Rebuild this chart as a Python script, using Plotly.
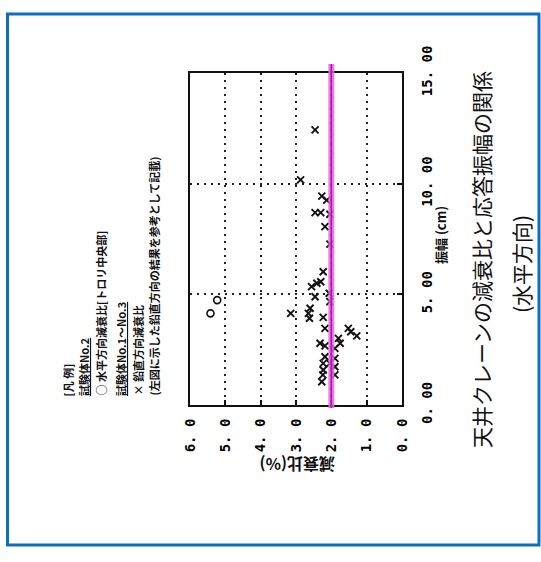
import plotly.graph_objects as go

# Damping ratio (%) vs response amplitude (cm), horizontal direction
# Specimens No.1-No.3 : vertical-direction damping ratio (x marks)
vert_damping = [2.46, 2.87, 2.27, 2.13, 2.46, 2.30, 2.04, 2.18,
                2.04, 2.23, 2.56, 2.41, 2.30, 2.46, 2.06, 2.04,
                3.15, 2.60, 2.65, 2.62, 2.23, 2.18, 2.32, 2.18,
                1.80, 1.75, 1.52, 1.45, 1.28, 1.90,
                2.18, 2.23, 2.23, 2.24, 2.27, 1.90, 1.90, 1.90, 2.04]
vert_amplitude = [12.43, 10.17, 9.44, 9.26, 8.69, 8.69, 8.62, 8.06,
                  7.27, 6.02, 5.35, 5.50, 5.57, 4.89, 5.05, 4.67,
                  4.14, 4.37, 4.14, 3.92, 3.96, 3.46, 2.79, 2.67,
                  3.01, 2.79, 3.46, 3.31, 3.12, 2.56,
                  2.18, 1.88, 1.58, 1.36, 1.05, 2.11, 1.73, 1.36, 1.88]

# Specimen No.2 : horizontal-direction damping ratio at trolley centre (circles)
horiz_damping = [5.23, 5.42]
horiz_amplitude = [4.74, 4.14]

# Reference damping ratio line
ref_damping = 2.0

damping_ticks = [0, 1, 2, 3, 4, 5, 6]
damping_labels = ["0. 0", "1. 0", "2. 0", "3. 0", "4. 0", "5. 0", "6. 0"]
amp_ticks = [0, 5, 10, 15]
amp_labels = ["0. 00", "5. 00", "10. 00", "15. 00"]

legend_lines = [
    "[凡 例]",
    "<span style='text-decoration:underline'>試験体No.2</span>",
    "○ 水平方向減衰比[トロリ中央部]",
    "<span style='text-decoration:underline'>試験体No.1～No.3</span>",
    "× 鉛直方向減衰比",
    "(左図に示した鉛直方向の結果を参考として記載)",
]
caption = "天井クレーンの減衰比と応答振幅の関係"
caption_sub = "(水平方向)"
x_title = "減衰比(%)"
y_title = "振幅 (cm)"

W, H = 541, 562
L, R, T, B = 190, 402, 73, 405  # plot area in pixels


def px(x):
    return (x - L) / (R - L)


def py(y):
    return (B - y) / (B - T)


fig = go.Figure()

fig.add_trace(go.Scatter(
    x=vert_damping, y=vert_amplitude, mode="markers",
    marker=dict(symbol="x-thin", size=7, color="#111",
                line=dict(width=1.9, color="#111")),
    showlegend=False, cliponaxis=False))
fig.add_trace(go.Scatter(
    x=horiz_damping, y=horiz_amplitude, mode="markers",
    marker=dict(symbol="circle-open", size=7, color="#111",
                line=dict(width=1.6, color="#111")),
    showlegend=False, cliponaxis=False))

mono = "DejaVu Sans Mono"
axis_common = dict(
    tickangle=-90, tickfont=dict(family=mono, size=14, color="#000"),
    showline=True, mirror=True, linewidth=2, linecolor="#111",
    ticks="inside", ticklen=5, tickwidth=1.5, tickcolor="#111",
    showgrid=True, gridcolor="#222", gridwidth=2, griddash="2px,5px",
    zeroline=False)
fig.update_xaxes(range=[6, 0], tickvals=damping_ticks,
                 ticktext=[f"<b>{t}</b>" for t in damping_labels],
                 ticklabelstandoff=6, **axis_common)
fig.update_yaxes(range=[0, 15], side="right", tickvals=amp_ticks,
                 ticktext=[f"<b>{t}</b>" for t in amp_labels],
                 ticklabelstandoff=11, **axis_common)

shapes = [
    # reference line at 2.0 %
    dict(type="line", xref="x", yref="paper", x0=ref_damping, x1=ref_damping,
         y0=py(408), y1=py(64), line=dict(color="rgba(232,100,232,0.85)", width=6)),
    dict(type="line", xref="x", yref="paper", x0=ref_damping, x1=ref_damping,
         y0=py(408), y1=py(64), line=dict(color="#9a1e96", width=1.5)),
    # outer frame
    dict(type="rect", xref="paper", yref="paper", x0=px(7.5), x1=px(539),
         y0=py(545), y1=py(14), line=dict(color="#0a6fc2", width=3)),
]

cjk = "Noto Sans CJK JP"


def note(text, x, y, angle, size, xa="center", ya="middle"):
    return dict(text=text, textangle=angle, x=px(x), y=py(y),
                xref="paper", yref="paper", xanchor=xa, yanchor=ya,
                showarrow=False, font=dict(family=cjk, size=size, color="#111"))


ann = [
    note(f"<b>{x_title}</b>", 297, 465, 180, 16),
    note(f"<b>{y_title}</b>", 440, 235, -90, 13),
    note(caption, 481, 260, -90, 21),
    note(caption_sub, 521, 264, -90, 21),
]

legend_x = [67, 84, 100, 121, 137, 153]
for txt, lx in zip(legend_lines, legend_x):
    ann.append(note(f"<b>{txt}</b>", lx, 398, -90, 11, "center", "bottom"))

fig.update_layout(
    width=W, height=H, margin=dict(l=L, r=W - R, t=T, b=H - B),
    paper_bgcolor="white", plot_bgcolor="white",
    shapes=shapes, annotations=ann, showlegend=False)

fig.write_html("out.html")
